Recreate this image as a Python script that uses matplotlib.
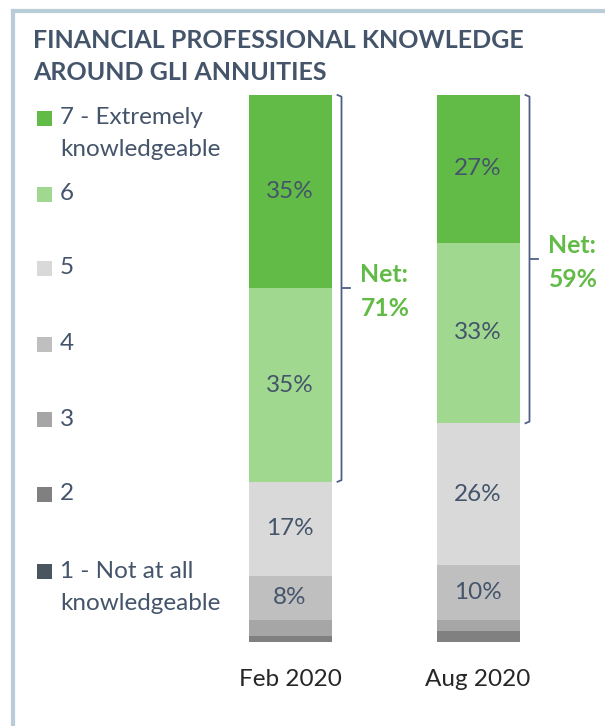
import matplotlib
matplotlib.use("Agg")
import matplotlib.pyplot as plt
from matplotlib.patches import Rectangle
from matplotlib.lines import Line2D
import numpy as np

plt.rcParams['font.family'] = ['Lato', 'DejaVu Sans']

categories = ["Feb 2020", "Aug 2020"]
levels = [["1 - Not at all", "knowledgeable"], ["2"], ["3"], ["4"], ["5"], ["6"],
          ["7 - Extremely", "knowledgeable"]]
# values per level (1..7) for each category
values = {
    "Feb 2020": [0, 1, 3, 8, 17, 35, 35],
    "Aug 2020": [0, 2, 2, 10, 26, 33, 27],
}
net = {"Feb 2020": 71, "Aug 2020": 59}
colors = ["#4a5560", "#808080", "#a6a6a6", "#bfbfbf", "#d9d9d9", "#a1d88f", "#62bb46"]
text_color = "#44546a"
green = "#62bb46"
title_lines = ["FINANCIAL PROFESSIONAL KNOWLEDGE", "AROUND GLI ANNUITIES"]

W, H = 605, 726
fig = plt.figure(figsize=(W / 100, H / 100), dpi=100)

def fx(px):
    return px / W

def fy(py):
    return 1 - py / H

# axes placement
ax_l, ax_r = 190, 600
ax_top, ax_bot = 95, 642
ax = fig.add_axes([fx(ax_l), fy(ax_bot), (ax_r - ax_l) / W, (ax_bot - ax_top) / H])
spacing = 188.0
xc0 = 290
ax.set_xlim(-(xc0 - ax_l) / spacing, (ax_r - xc0) / spacing)
ax.set_ylim(0, 100)
ax.axis("off")
py = 100 / (ax_bot - ax_top)  # data units per pixel (y)

bar_w = 83 / spacing
for i, cat in enumerate(categories):
    vals = np.array(values[cat], dtype=float)
    vals = vals / vals.sum() * 100
    bottom = 0.0
    for j, v in enumerate(vals):
        if v > 0:
            ax.bar(i, v, bottom=bottom, width=bar_w, color=colors[j], edgecolor="none")
            raw = values[cat][j]
            if raw >= 5:
                ax.text(i, bottom + v / 2, f"{raw}%", ha="center", va="center",
                        fontsize=17.5, color=text_color)
        bottom += v
    # bracket around top two levels
    top_start = 100 - vals[5] - vals[6]
    bx = i + bar_w / 2 + 10 / spacing
    tick = 8 / spacing
    hook = 4 / spacing
    mid = (top_start + 100) / 2
    ax.add_line(Line2D([bx - hook, bx, bx, bx - hook], [100, 100 - 0.3, top_start + 0.3, top_start],
                       color="#4f5f85", lw=1.3, clip_on=False))
    ax.add_line(Line2D([bx, bx + tick], [mid, mid], color="#4f5f85", lw=1.3, clip_on=False))
    ax.text(bx + 19 / spacing, mid + 14 * py, "Net:", ha="left", va="center",
            fontsize=17.8, color=green, fontweight="bold")
    ax.text(bx + 19 / spacing, mid - 20 * py, f"{net[cat]}%", ha="left", va="center",
            fontsize=17.8, color=green, fontweight="bold")
    # category label
    ax.text(i, -38 * py, cat, ha="center", va="center", fontsize=17.5, color="#262626")

# Title
for k, line in enumerate(title_lines):
    fig.text(fx(33), fy(40 + 33 * k), line, ha="left", va="center",
             fontsize=18.0, fontweight="bold", color=text_color)

# Legend (manual)
legend_y = [119, 195, 269, 345, 420, 495, 572]  # from level 7 down to level 1
for k, lev_idx in enumerate(range(6, -1, -1)):
    y = legend_y[k]
    fig.patches.append(Rectangle((fx(37), fy(y + 7)), 15 / W, 15 / H, transform=fig.transFigure,
                                 facecolor=colors[lev_idx], edgecolor="none"))
    for m, line in enumerate(levels[lev_idx]):
        fig.text(fx(60), fy(y - 1 + 32 * m), line, ha="left", va="center",
                 fontsize=17.5, color=text_color)

# Border
border = "#b9cdd9"
fig.add_artist(Line2D([fx(13), fx(13)], [fy(11), 0], transform=fig.transFigure, color=border, lw=3))
fig.add_artist(Line2D([fx(13), 1], [fy(11), fy(11)], transform=fig.transFigure, color=border, lw=3))

fig.savefig("out.png", dpi=100)
